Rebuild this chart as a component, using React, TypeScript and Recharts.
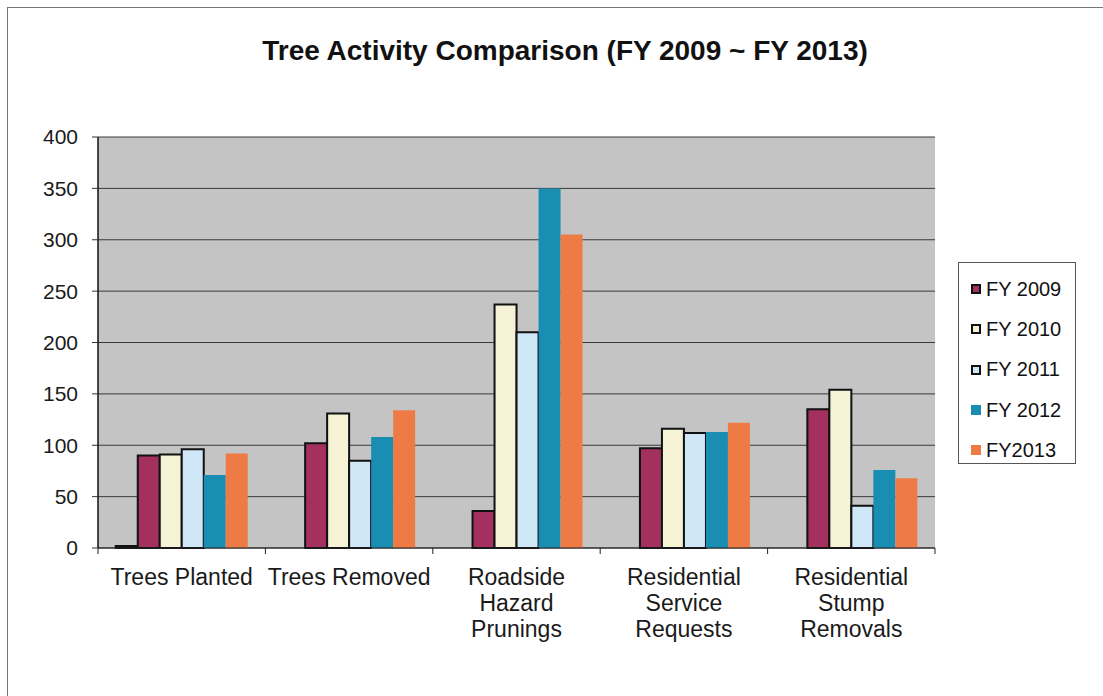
import React from 'react';
import {
  BarChart,
  Bar,
  XAxis,
  YAxis,
  CartesianGrid,
  Legend
} from 'recharts';

// categories and values
const categories = [
  'Trees Planted',
  'Trees Removed',
  'Roadside\nHazard\nPrunings',
  'Residential\nService\nRequests',
  'Residential\nStump\nRemovals'
];
const unlabeled = [2, 0, 0, 0, 0];
const fy2009 = [90, 102, 36, 97, 135];
const fy2010 = [91, 131, 237, 116, 154];
const fy2011 = [96, 85, 210, 112, 41];
const fy2012 = [71, 108, 350, 113, 76];
const fy2013 = [92, 134, 305, 122, 68];
const yTicks = [0, 50, 100, 150, 200, 250, 300, 350, 400];

const series = [
  { key: 'unlabeled', name: '', color: '#222222', outlined: true, hidden: true },
  { key: 'fy2009', name: 'FY 2009', color: '#a3305f', outlined: true },
  { key: 'fy2010', name: 'FY 2010', color: '#f6f2d6', outlined: true },
  { key: 'fy2011', name: 'FY 2011', color: '#d0e7f8', outlined: true },
  { key: 'fy2012', name: 'FY 2012', color: '#1a8db3', outlined: false },
  { key: 'fy2013', name: 'FY2013', color: '#ee7b45', outlined: false }
];

const data = categories.map((name, i) => ({
  name,
  unlabeled: unlabeled[i],
  fy2009: fy2009[i],
  fy2010: fy2010[i],
  fy2011: fy2011[i],
  fy2012: fy2012[i],
  fy2013: fy2013[i]
}));

const FONT = '"Liberation Sans", Arial, sans-serif';

// label plus the little tick marks that sit between categories
const CategoryTick = ({ x, y, width, payload, index, visibleTicksCount }: any) => {
  const lines = String(payload.value).split('\n');
  const band = width / visibleTicksCount;
  const isLast = index === visibleTicksCount - 1;
  return (
    <g>
      <line x1={x - band / 2} x2={x - band / 2} y1={y} y2={y + 6} stroke="#222" />
      {isLast && <line x1={x + band / 2} x2={x + band / 2} y1={y} y2={y + 6} stroke="#222" />}
      <text x={x} y={y} textAnchor="middle" fontFamily={FONT} fontSize={23} fill="#1a1a1a">
        {lines.map((line, i) => (
          <tspan key={i} x={x} dy={i === 0 ? 37 : 26}>{line}</tspan>
        ))}
      </text>
    </g>
  );
};

const LegendBox = () => (
  <div
    style={{
      border: '1px solid #555',
      background: '#fff',
      width: 118,
      height: 202,
      boxSizing: 'border-box',
      padding: '6px 0 0 12px',
      fontFamily: FONT,
      fontSize: 20,
      color: '#111'
    }}
  >
    {series.filter(s => !s.hidden).map((s) => (
      <div key={s.key} style={{ display: 'flex', alignItems: 'center', height: 40.3 }}>
        <span
          style={{
            display: 'inline-block',
            width: 10,
            height: 10,
            boxSizing: 'border-box',
            background: s.color,
            border: s.outlined ? '2px solid #111' : 'none',
            marginRight: 5
          }}
        />
        <span>{s.name}</span>
      </div>
    ))}
  </div>
);

export default function App() {
  return (
    <div style={{ position: 'absolute', left: 0, top: 0, width: 1103, height: 696, background: '#fff', overflow: 'hidden' }}>
      <div
        style={{
          position: 'absolute',
          left: 7,
          top: 7,
          width: 1120,
          height: 720,
          border: '1px solid #777'
        }}
      />
      <div
        style={{
          position: 'absolute',
          left: 0,
          width: 1130,
          top: 35,
          textAlign: 'center',
          fontFamily: FONT,
          fontWeight: 'bold',
          fontSize: 28,
          color: '#111'
        }}
      >
        Tree Activity Comparison (FY 2009 ~ FY 2013)
      </div>
      <div style={{ position: 'absolute', left: 0, top: 0 }}>
        <BarChart
          width={1103}
          height={696}
          data={data}
          margin={{ top: 137, right: 50, left: 38, bottom: 48 }}
          barCategoryGap="10.6%"
          barGap={0}
        >
          <CartesianGrid fill="#c4c4c4" stroke="#3a3a3a" vertical={false} strokeWidth={1} />
          <XAxis
            dataKey="name"
            interval={0}
            height={100}
            axisLine={{ stroke: '#222' }}
            tickLine={false}
            tickSize={0}
            tickMargin={0}
            tick={<CategoryTick />}
          />
          <YAxis
            domain={[0, 400]}
            ticks={yTicks}
            width={60}
            tickSize={6}
            axisLine={{ stroke: '#111', strokeWidth: 1.5 }}
            tickLine={{ stroke: '#333' }}
            tick={{ fill: '#1a1a1a', fontSize: 21, fontFamily: FONT }}
            tickMargin={14}
          />
          <YAxis
            yAxisId="right"
            orientation="right"
            domain={[0, 400]}
            width={0}
            tick={false}
            tickLine={false}
            axisLine={{ stroke: '#555' }}
          />
          <Legend
            layout="vertical"
            align="right"
            verticalAlign="top"
            content={<LegendBox />}
            wrapperStyle={{ left: 958, top: 262, right: 'auto', width: 118 }}
          />
          {series.map((s) => (
            <Bar
              key={s.key}
              dataKey={s.key}
              name={s.name}
              fill={s.color}
              stroke={s.outlined ? '#111' : 'none'}
              strokeWidth={s.outlined ? 2 : 0}
              legendType={s.hidden ? 'none' : 'square'}
              isAnimationActive={false}
            />
          ))}
        </BarChart>
      </div>
    </div>
  );
}
